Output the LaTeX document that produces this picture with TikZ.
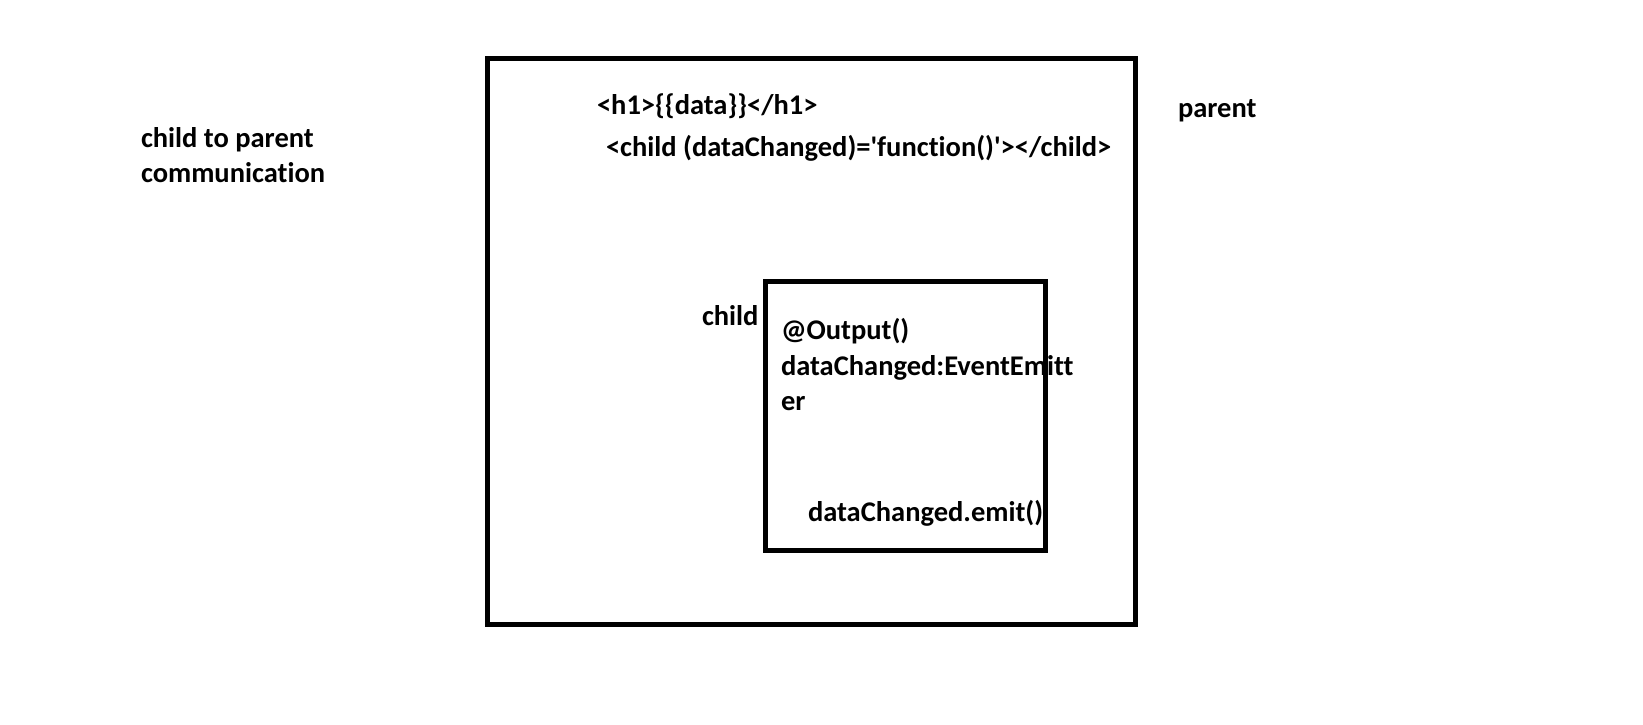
\documentclass[tikz,border=0pt]{standalone}
\usepackage{fontspec}
\setmainfont{Carlito}[Ligatures={NoCommon}]
\begin{document}
\begin{tikzpicture}[x=1pt,y=-1pt,
  box/.style={draw=black,line width=5pt,fill=none},
  lbl/.style={anchor=west,inner sep=0pt,outer sep=0pt,align=left,font=\fontsize{28.5}{35.5}\selectfont\bfseries}]
\useasboundingbox[fill=white] (0,0) rectangle (1643,724);
\draw[box] (487.5,58.5) rectangle (1135.5,624.5);
\draw[box] (765.5,281.5) rectangle (1045.5,550.5);
\node[lbl] (h1) at (597,106) {<h1>\{\{data\}\}</h1>};
\node[lbl] (childtag) at (606,148) {<child (dataChanged)=\textquotesingle function()\textquotesingle></child>};
\node[lbl] (parent) at (1178,111) {parent};
\node[lbl] (title) at (141,155) {child to parent\\communication};
\node[lbl] (child) at (702,316) {child};
\node[lbl] (output) at (781,365) {@Output()\\dataChanged:EventEmitt\\er};
\node[lbl] (emit) at (808,513) {dataChanged.emit()};
\end{tikzpicture}
\end{document}
